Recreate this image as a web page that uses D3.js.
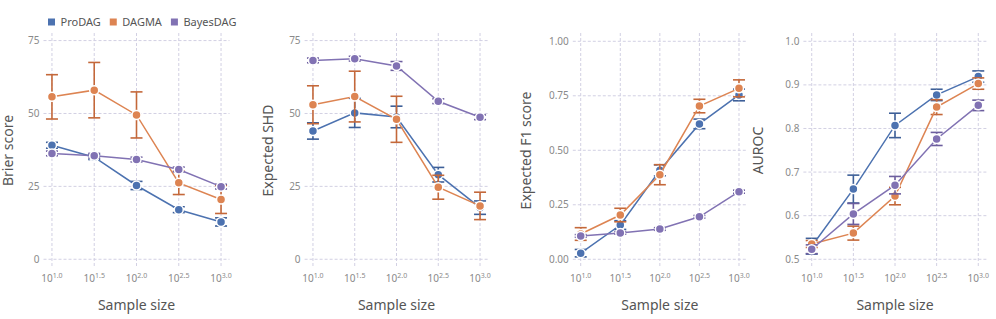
<!DOCTYPE html>
<html lang="en">
<head>
  <meta charset="UTF-8">
  <title>Sample size panels</title>
  <script src="https://d3js.org/d3.v7.min.js"></script>
  <style>
    body { margin: 0; background: white; }
    svg { font-family: "Noto Sans", sans-serif; }
    .grid line { stroke: #d2d0e3; stroke-dasharray: 3,2; stroke-width: 1; }
    .tick-label { fill: #8a8a8a; font-size: 10px; }
    .axis-title { fill: #555; font-size: 14px; }
    .legend-label { fill: #555; font-size: 11px; }
  </style>
</head>
<body>
  <svg></svg>
  <script>
    // x positions are log10(sample size)
    const sampleExp = [1.0, 1.5, 2.0, 2.5, 3.0];
    const xTickLabels = ['1.0', '1.5', '2.0', '2.5', '3.0'];
    const methods = ['ProDAG', 'DAGMA', 'BayesDAG'];

    // Brier score
    const brierMean = {
      ProDAG:   [39.1, 35.0, 25.3, 17.0, 12.8],
      DAGMA:    [55.7, 58.0, 49.5, 26.2, 20.5],
      BayesDAG: [36.3, 35.5, 34.2, 30.8, 24.9]
    };
    const brierErr = {
      ProDAG:   [1.0, 0.8, 1.4, 1.0, 1.4],
      DAGMA:    [7.6, 9.5, 7.9, 4.0, 4.8],
      BayesDAG: [0.8, 0.8, 0.8, 0.8, 0.8]
    };

    // Expected SHD
    const shdMean = {
      ProDAG:   [44.0, 50.2, 48.8, 29.0, 17.7],
      DAGMA:    [53.0, 55.8, 48.0, 24.7, 18.3],
      BayesDAG: [68.2, 68.8, 66.3, 54.2, 48.7]
    };
    const shdErr = {
      ProDAG:   [2.8, 5.0, 3.7, 2.5, 2.3],
      DAGMA:    [6.5, 8.7, 7.9, 4.1, 4.7],
      BayesDAG: [0.8, 0.8, 1.5, 0.8, 0.8]
    };

    // Expected F1 score
    const f1Mean = {
      ProDAG:   [0.028, 0.157, 0.408, 0.621, 0.754],
      DAGMA:    [0.116, 0.203, 0.388, 0.703, 0.784],
      BayesDAG: [0.107, 0.121, 0.139, 0.195, 0.310]
    };
    const f1Err = {
      ProDAG:   [0.017, 0.020, 0.025, 0.022, 0.027],
      DAGMA:    [0.029, 0.031, 0.046, 0.031, 0.039],
      BayesDAG: [0.006, 0.006, 0.006, 0.006, 0.007]
    };

    // AUROC
    const aurocMean = {
      ProDAG:   [0.530, 0.661, 0.807, 0.877, 0.919],
      DAGMA:    [0.535, 0.560, 0.645, 0.849, 0.903],
      BayesDAG: [0.523, 0.604, 0.670, 0.776, 0.853]
    };
    const aurocErr = {
      ProDAG:   [0.018, 0.032, 0.028, 0.013, 0.013],
      DAGMA:    [0.008, 0.016, 0.020, 0.017, 0.013],
      BayesDAG: [0.010, 0.024, 0.020, 0.015, 0.012]
    };

    const lineColor = { ProDAG: '#4c72b0', DAGMA: '#dd8452', BayesDAG: '#8172b3' };
    const barColor  = { ProDAG: '#3d5f98', DAGMA: '#c4683a', BayesDAG: '#6c5e9e' };

    const panels = [
      { title: 'Brier score', mean: brierMean, err: brierErr,
        left: 43.5, right: 229.5, yDomain: [-3.0, 77.6], yTicks: [0, 25, 50, 75], fmt: d3.format('d'), titleX: 8 },
      { title: 'Expected SHD', mean: shdMean, err: shdErr,
        left: 304.6, right: 488.4, yDomain: [-3.0, 77.6], yTicks: [0, 25, 50, 75], fmt: d3.format('d'), titleX: 268 },
      { title: 'Expected F1 score', mean: f1Mean, err: f1Err,
        left: 572.8, right: 746.9, yDomain: [-0.04, 1.038], yTicks: [0, 0.25, 0.5, 0.75, 1], fmt: d3.format('.2f'), titleX: 526 },
      { title: 'AUROC', mean: aurocMean, err: aurocErr,
        left: 803.4, right: 986.6, yDomain: [0.48, 1.019], yTicks: [0.5, 0.6, 0.7, 0.8, 0.9, 1.0], fmt: d3.format('.1f'), titleX: 758 }
    ];

    const width = 996, height = 319;
    const plotTop = 33, plotBottom = 268;

    const svg = d3.select('svg')
      .attr('width', width)
      .attr('height', height);

    panels.forEach(p => {
      const x = d3.scaleLinear().domain([0.9, 3.1]).range([p.left, p.right]);
      const y = d3.scaleLinear().domain(p.yDomain).range([plotBottom, plotTop]);
      const g = svg.append('g');

      // grid
      const grid = g.append('g').attr('class', 'grid');
      grid.selectAll('.h').data(p.yTicks).enter().append('line')
        .attr('x1', p.left).attr('x2', p.right)
        .attr('y1', d => y(d)).attr('y2', d => y(d));
      grid.selectAll('.v').data(sampleExp).enter().append('line')
        .attr('x1', d => x(d)).attr('x2', d => x(d))
        .attr('y1', plotTop).attr('y2', plotBottom);

      // y tick labels
      g.selectAll('.ytick').data(p.yTicks).enter().append('text')
        .attr('class', 'tick-label')
        .attr('x', p.left - 4)
        .attr('y', d => y(d))
        .attr('dy', '0.35em')
        .attr('text-anchor', 'end')
        .text(d => p.fmt(d));

      // x tick labels, 10^k
      const xt = g.selectAll('.xtick').data(sampleExp).enter().append('text')
        .attr('class', 'tick-label')
        .attr('x', d => x(d))
        .attr('y', 282)
        .attr('text-anchor', 'middle');
      xt.append('tspan').text('10');
      xt.append('tspan')
        .attr('dy', -4)
        .style('font-size', '7px')
        .text((d, i) => xTickLabels[i]);

      // axis titles
      g.append('text')
        .attr('class', 'axis-title')
        .attr('x', (p.left + p.right) / 2)
        .attr('y', 310)
        .attr('text-anchor', 'middle')
        .text('Sample size');

      g.append('text')
        .attr('class', 'axis-title')
        .attr('transform', `translate(${p.titleX},${(plotTop + plotBottom) / 2}) rotate(-90)`)
        .attr('dy', '0.35em')
        .attr('text-anchor', 'middle')
        .text(p.title);

      const line = d3.line()
        .x((d, i) => x(sampleExp[i]))
        .y(d => y(d));

      methods.forEach(m => {
        const rows = p.mean[m].map((v, i) => ({ x: sampleExp[i], v: v, e: p.err[m][i] }));
        const s = g.append('g');

        // error bars
        const eb = s.selectAll('.eb').data(rows).enter().append('g')
          .attr('stroke', barColor[m])
          .attr('stroke-width', 1.6);
        eb.append('line')
          .attr('x1', d => x(d.x)).attr('x2', d => x(d.x))
          .attr('y1', d => y(d.v - d.e)).attr('y2', d => y(d.v + d.e));
        eb.append('line')
          .attr('x1', d => x(d.x) - 6).attr('x2', d => x(d.x) + 6)
          .attr('y1', d => y(d.v - d.e)).attr('y2', d => y(d.v - d.e));
        eb.append('line')
          .attr('x1', d => x(d.x) - 6).attr('x2', d => x(d.x) + 6)
          .attr('y1', d => y(d.v + d.e)).attr('y2', d => y(d.v + d.e));

        s.append('path')
          .datum(p.mean[m])
          .attr('fill', 'none')
          .attr('stroke', lineColor[m])
          .attr('stroke-width', 1.5)
          .attr('d', line);

        s.selectAll('circle').data(rows).enter().append('circle')
          .attr('cx', d => x(d.x))
          .attr('cy', d => y(d.v))
          .attr('r', 4.5)
          .attr('fill', lineColor[m])
          .attr('stroke', 'white')
          .attr('stroke-width', 1.5);
      });
    });

    // legend
    const legend = svg.append('g').attr('transform', 'translate(48,22)');
    let lx = 0;
    methods.forEach(m => {
      const item = legend.append('g').attr('transform', `translate(${lx},0)`);
      item.append('rect')
        .attr('x', 0).attr('y', -3.5)
        .attr('width', 7).attr('height', 7)
        .attr('fill', lineColor[m]);
      const t = item.append('text')
        .attr('class', 'legend-label')
        .attr('x', 12.5)
        .attr('dy', '0.35em')
        .text(m);
      lx += 12.5 + t.node().getComputedTextLength() + 9;
    });
  </script>
</body>
</html>
